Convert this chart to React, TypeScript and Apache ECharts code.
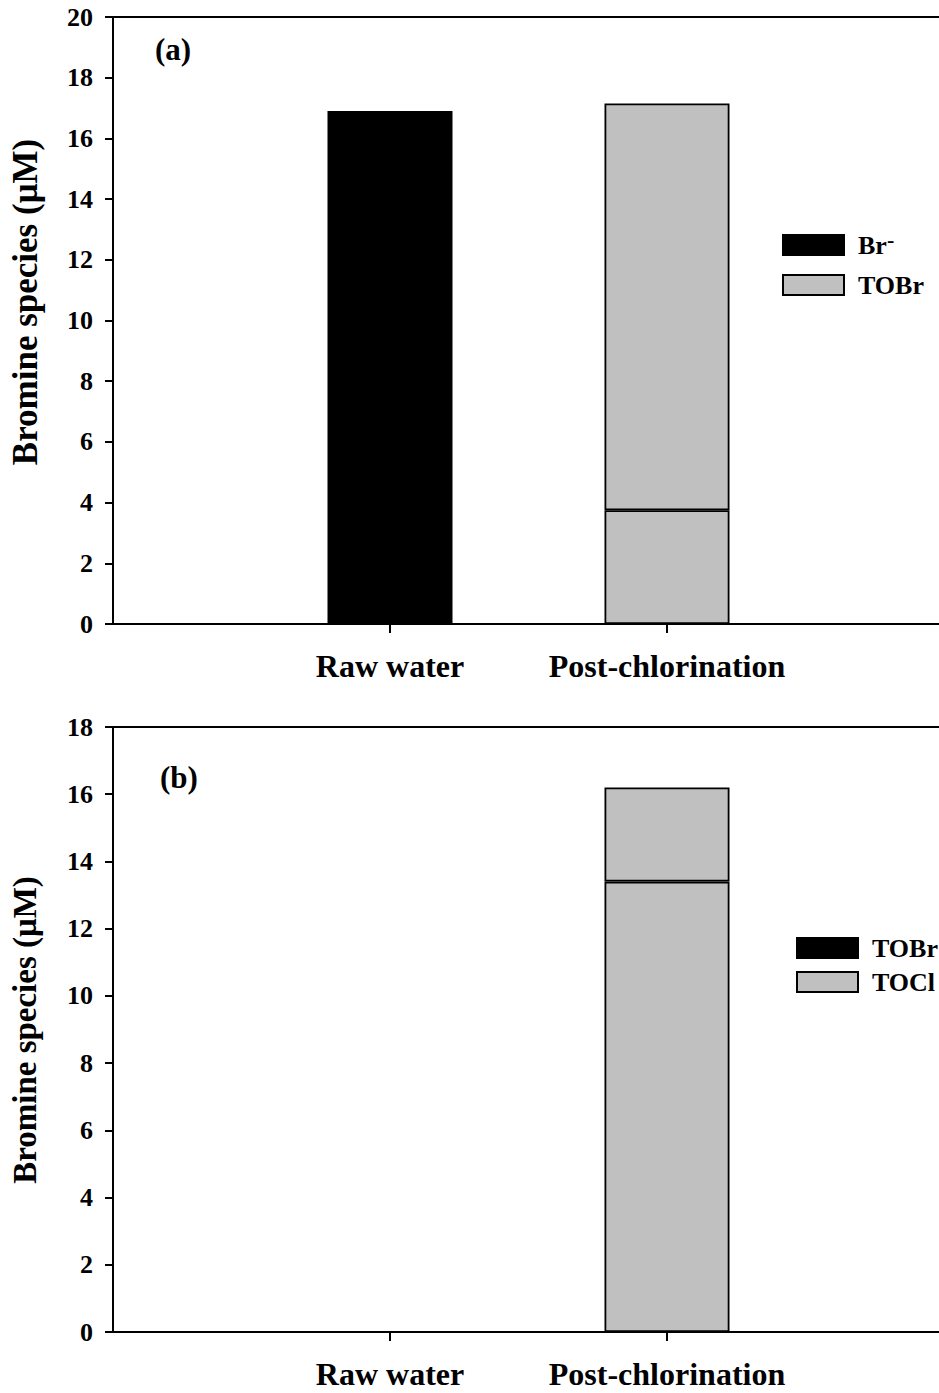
import React, { useEffect, useRef } from "react";
import * as echarts from "echarts";

const categories = ["", "Raw water", "Post-chlorination", ""];
const brA: (number | null)[] = [null, 16.9, 3.75, null];
const tobrA: (number | null)[] = [null, null, 13.4, null];
const tobrB: (number | null)[] = [null, null, 13.4, null];
const toclB: (number | null)[] = [null, null, 2.8, null];
const yTicksA = { min: 0, max: 20, interval: 2 };
const yTicksB = { min: 0, max: 18, interval: 2 };

const FONT = "'Liberation Serif', 'Times New Roman', serif";
const GREY = "#c0c0c0";

export default function App() {
  const ref = useRef<HTMLDivElement>(null);
  useEffect(() => {
    if (!ref.current) return;
    const chart = echarts.init(ref.current, null, { renderer: "svg" });

    const xAxisBase = (gridIndex: number) => ({
      type: "category",
      gridIndex,
      data: categories,
      boundaryGap: false,
      axisLine: { lineStyle: { color: "#000", width: 2 } },
      axisTick: {
        length: 9,
        lineStyle: { color: "#000", width: 2 },
        interval: (i: number) => i === 1 || i === 2,
      },
      axisLabel: {
        interval: (i: number) => i === 1 || i === 2,
        margin: 26,
        color: "#000",
        fontFamily: FONT,
        fontWeight: "bold",
        fontSize: 32,
      },
      splitLine: { show: false },
    });
    const xAxisTop = (gridIndex: number) => ({
      type: "category",
      gridIndex,
      position: "top",
      data: categories,
      boundaryGap: false,
      axisLine: { show: true, lineStyle: { color: "#000", width: 2 } },
      axisTick: { show: false },
      axisLabel: { show: false },
      splitLine: { show: false },
    });
    const yAxisBase = (gridIndex: number, t: any) => ({
      type: "value",
      gridIndex,
      min: t.min,
      max: t.max,
      interval: t.interval,
      axisLine: { show: true, lineStyle: { color: "#000", width: 2 } },
      axisTick: { show: true, length: 8, lineStyle: { color: "#000", width: 2 } },
      axisLabel: {
        margin: 20,
        color: "#000",
        fontFamily: FONT,
        fontWeight: "bold",
        fontSize: 26,
      },
      splitLine: { show: false },
    });

    const legendText = {
      fontFamily: FONT,
      fontWeight: "bold",
      fontSize: 26,
      color: "#000",
      rich: {
        b: { fontFamily: FONT, fontWeight: "bold", fontSize: 26, color: "#000", padding: [0, 0, 0, 9] },
        s: { fontFamily: FONT, fontWeight: "bold", fontSize: 22, color: "#000", verticalAlign: "top", padding: [0, 0, 12, 0] },
      },
    };
    const fmt = (name: string) => (name === "Br-" ? "{b|Br}{s|-}" : "{b|" + name + "}");

    const barStyle = (color: string) => ({ color, borderColor: "#000", borderWidth: 1.8 });

    chart.setOption({
      animation: false,
      backgroundColor: "#fff",
      grid: [
        { left: 113, top: 17, width: 831, height: 607 },
        { left: 113, top: 727, width: 831, height: 605 },
      ],
      xAxis: [xAxisBase(0), xAxisBase(1), xAxisTop(0), xAxisTop(1)],
      yAxis: [yAxisBase(0, yTicksA), yAxisBase(1, yTicksB)],
      legend: [
        {
          data: ["Br-", "TOBr"].map((n) => ({ name: n })),
          orient: "vertical",
          left: 782,
          top: 228,
          padding: 0,
          itemWidth: 61,
          itemHeight: 20,
          itemGap: 14,
          icon: "rect",
          selectedMode: false,
          textStyle: legendText,
          formatter: fmt,
        },
        {
          data: ["TOBr ", "TOCl"].map((n) => ({ name: n })),
          orient: "vertical",
          left: 796,
          top: 935,
          padding: 0,
          itemWidth: 61,
          itemHeight: 20,
          itemGap: 8,
          icon: "rect",
          selectedMode: false,
          textStyle: legendText,
          formatter: (n: string) => fmt(n.trim()),
        },
      ],
      series: [
        {
          name: "Br-",
          type: "bar",
          stack: "a",
          xAxisIndex: 0,
          yAxisIndex: 0,
          barWidth: 125,
          itemStyle: barStyle("#000"),
          data: brA.map((v, i) => (i === 2 ? { value: v, itemStyle: barStyle(GREY) } : v)),
        },
        {
          name: "TOBr",
          type: "bar",
          stack: "a",
          xAxisIndex: 0,
          yAxisIndex: 0,
          barWidth: 125,
          itemStyle: barStyle(GREY),
          data: tobrA,
        },
        {
          name: "TOBr ",
          type: "bar",
          stack: "b",
          xAxisIndex: 1,
          yAxisIndex: 1,
          barWidth: 125,
          itemStyle: barStyle("#000"),
          data: tobrB.map((v, i) => (i === 2 ? { value: v, itemStyle: barStyle(GREY) } : v)),
        },
        {
          name: "TOCl",
          type: "bar",
          stack: "b",
          xAxisIndex: 1,
          yAxisIndex: 1,
          barWidth: 125,
          itemStyle: barStyle(GREY),
          data: toclB,
        },
      ],
      graphic: [
        { type: "text", left: 155, top: 34, style: { text: "(a)", font: `bold 31px ${FONT}`, fill: "#000" } },
        { type: "text", left: 160, top: 762, style: { text: "(b)", font: `bold 31px ${FONT}`, fill: "#000" } },
        {
          type: "text",
          x: 25,
          y: 302,
          rotation: Math.PI / 2,
          style: { text: "Bromine species (μM)", font: `bold 35px ${FONT}`, fill: "#000", align: "center", verticalAlign: "middle" },
        },
        {
          type: "text",
          x: 25,
          y: 1030,
          rotation: Math.PI / 2,
          style: { text: "Bromine species (μM)", font: `bold 33px ${FONT}`, fill: "#000", align: "center", verticalAlign: "middle" },
        },
      ],
    });
    return () => chart.dispose();
  }, []);
  return (
    <div style={{ position: "absolute", left: 0, top: 0, width: 939, height: 1393, overflow: "hidden" }}>
      <div ref={ref} style={{ width: 960, height: 1393 }} />
    </div>
  );
}
